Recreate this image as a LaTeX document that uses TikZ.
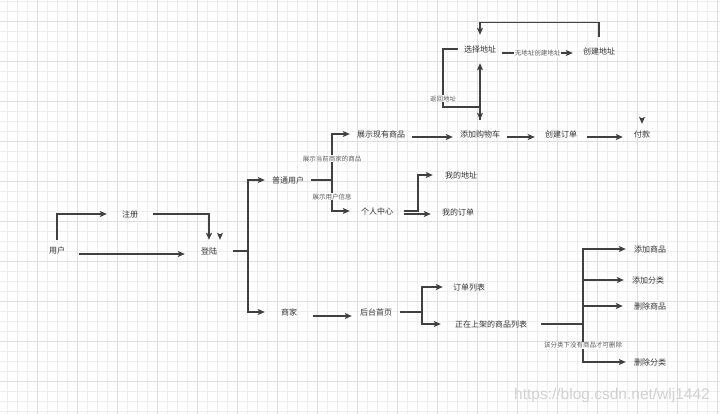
\documentclass[tikz,border=0pt]{standalone}
\usepackage{fontspec}
\newfontfamily\cjk{Noto Sans CJK SC}
\newfontfamily\wmfont{Liberation Sans}
\usepackage{tikz}
\usetikzlibrary{arrows.meta}
\definecolor{minorgrid}{HTML}{EDEDED}
\definecolor{majorgrid}{HTML}{DDDDDD}
\definecolor{linegray}{HTML}{404040}
\definecolor{textgray}{HTML}{333333}
\definecolor{labelgray}{HTML}{5A5A5A}

\begin{document}
\begin{tikzpicture}[x=1pt, y=-1pt]

        \tikzstyle{item} = [inner sep=0pt, minimum height=20pt, text=textgray,
            font=\cjk\fontsize{8}{9}\selectfont]
        \tikzstyle{flow} = [-{Stealth[length=7pt,width=6pt,inset=1.5pt]}, draw=linegray, line width=1.1pt]
        \tikzstyle{tag}  = [fill=white, inner sep=0.6pt, text=labelgray, font=\cjk\fontsize{6.5}{7}\selectfont]

        \fill[white] (0,0) rectangle (720,414);
        \useasboundingbox (0,0) rectangle (720,414);
        \foreach \i in {0,...,71} \draw[minorgrid, line width=0.8pt] ({7.5+10*\i},0) -- ({7.5+10*\i},414);
        \foreach \j in {0,...,41} \draw[minorgrid, line width=0.8pt] (0,{1.5+10*\j}) -- (720,{1.5+10*\j});
        \foreach \i in {0,...,17} \draw[majorgrid, line width=0.9pt] ({37.5+40*\i},0) -- ({37.5+40*\i},414);
        \foreach \j in {0,...,9}  \draw[majorgrid, line width=0.9pt] (0,{21.5+40*\j}) -- (720,{21.5+40*\j});

        \node[item, minimum width=44pt]                    (yonghu)     at (57,250)  {用户};
        \node[item, minimum width=46pt]                    (zhuce)      at (130,214) {注册};
        \node[item, minimum width=48pt, minimum height=22pt] (denglu)   at (209,251) {登陆};
        \node[item, minimum width=46pt]                    (putong)     at (288,180) {普通用户};
        \node[item, minimum width=48pt]                    (shangjia)   at (289,312) {商家};
        \node[item, minimum width=62pt]                    (xianyou)    at (381,134) {展示现有商品};
        \node[item, minimum width=54pt, minimum height=28pt] (gouwuche) at (480,134) {添加购物车};
        \node[item, minimum width=52pt]                    (dingdan)    at (561,134) {创建订单};
        \node[item, minimum width=38pt]                    (fukuan)     at (642,134) {付款};
        \node[item, minimum width=44pt, minimum height=28pt] (xuanze)   at (480,49)  {选择地址};
        \node[item, minimum width=52pt, minimum height=28pt] (chuangjian) at (599,51) {创建地址};
        \node[item, minimum width=54pt]                    (geren)      at (377,211) {个人中心};
        \node[item, minimum width=56pt]                    (dizhi)      at (461,175) {我的地址};
        \node[item, minimum width=54pt]                    (wodedingdan) at (458,212) {我的订单};
        \node[item, minimum width=48pt]                    (houtai)     at (376,312) {后台首页};
        \node[item, minimum width=52pt]                    (liebiao)    at (469,287) {订单列表};
        \node[item, minimum width=100pt]                   (shangpin)   at (491,324) {正在上架的商品列表};
        \node[item, minimum width=48pt]                    (addgoods)   at (650,249) {添加商品};
        \node[item, minimum width=48pt]                    (addclass)   at (648,280) {添加分类};
        \node[item, minimum width=54pt]                    (delgoods)   at (650,306) {删除商品};
        \node[item, minimum width=48pt]                    (delclass)   at (650,362) {删除分类};

        \node[font=\wmfont\fontsize{15.5}{16}\selectfont, text=black!18, anchor=base east, inner sep=0pt]
                                                           (mark)       at (710,399) {https://blog.csdn.net/wlj1442};

        \coordinate (forkA) at (248,251);
        \coordinate (forkB) at (332,180);
        \coordinate (forkC) at (418,211);
        \coordinate (forkD) at (422,312);
        \coordinate (forkE) at (583,324);
        \coordinate (backA) at (443,107);

        \draw[flow] (yonghu.north) |- (zhuce.west);
        \draw[flow] ([yshift=-4pt]yonghu.east) -- ([yshift=-4pt]yonghu.east -| denglu.west);
        \draw[flow] (zhuce.east) -| (denglu.north);
        \draw[flow] ([xshift=11pt,yshift=6pt]denglu.north) -- ([xshift=11pt]denglu.north);
        \draw[flow] (denglu.east) -- (forkA) |- (putong.west);
        \draw[flow] (denglu.east) -- (forkA) |- (shangjia.west);

        \draw[flow] (putong.east) -- (forkB) |- (xianyou.west) node[tag, pos=0.23] {展示当前商家的商品};
        \draw[flow] (putong.east) -- (forkB) |- (geren.west) node[tag, pos=0.27] {展示用户信息};
        \draw[flow] ([yshift=-3pt]xianyou.east) -- ([yshift=-3pt]xianyou.east -| gouwuche.west);
        \draw[flow] ([yshift=-3pt]gouwuche.east) -- ([yshift=-3pt]gouwuche.east -| dingdan.west);
        \draw[flow] ([yshift=-3pt]dingdan.east) -- ([yshift=-3pt]dingdan.east -| fukuan.west);
        \draw[flow] ([yshift=6pt]fukuan.north) -- (fukuan.north);

        \draw[flow] (gouwuche.north) -- (xuanze.south);
        \draw[flow] (xuanze.west) -| (backA) node[tag, pos=0.93] {返回地址} -| (gouwuche.north);
        \draw[flow] ([yshift=-4pt]xuanze.east) -- ([yshift=-4pt]xuanze.east -| chuangjian.west) node[tag, pos=0.5] {无地址创建地址};
        \draw[flow] (chuangjian.north) |- ([yshift=12pt]xuanze.north) -- (xuanze.north);

        \draw[flow] (geren.east) -- (forkC) |- (dizhi.west);
        \draw[flow] ([yshift=-3pt]geren.east) -- ([yshift=-3pt]geren.east -| wodedingdan.west);

        \draw[flow] ([yshift=-4pt]shangjia.east) -- ([yshift=-4pt]shangjia.east -| houtai.west);
        \draw[flow] (houtai.east) -- (forkD) |- (liebiao.west);
        \draw[flow] (houtai.east) -- (forkD) |- (shangpin.west);

        \draw[flow] (shangpin.east) -- (forkE) |- (addgoods.west);
        \draw[flow] (shangpin.east) -- (forkE) |- (addclass.west);
        \draw[flow] (shangpin.east) -- (forkE) |- (delgoods.west);
        \draw[flow] (shangpin.east) -- (forkE) |- (delclass.west) node[tag, pos=0.28] {该分类下没有商品才可删除};

\end{tikzpicture}
\end{document}
